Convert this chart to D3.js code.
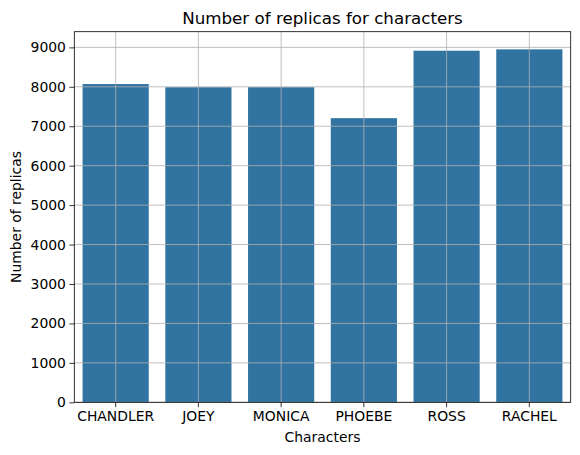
<!DOCTYPE html>
<html><head><meta charset="utf-8">
<script src="https://cdn.jsdelivr.net/npm/d3@7"></script>
<style>body{margin:0;background:#fff}text{font-family:"DejaVu Sans",sans-serif;fill:#000}</style>
</head><body>
<svg id="c" width="580" height="455"></svg>
<script>
const categories = ["CHANDLER","JOEY","MONICA","PHOEBE","ROSS","RACHEL"];
const values = [8070, 7990, 7990, 7205, 8915, 8950];
const yTicks = [0,1000,2000,3000,4000,5000,6000,7000,8000,9000];
const title = "Number of replicas for characters";
const xLabel = "Characters";
const yLabel = "Number of replicas";

const L = 74.3, R = 570.7, T = 31.7, B = 402.3;
const svg = d3.select("#c");
const x = d3.scaleBand().domain(categories).range([L, R]).paddingInner(0.2).paddingOuter(0.1);
const y = d3.scaleLinear().domain([0, d3.max(values) * 1.05]).range([B, T]);

svg.append("g").selectAll("rect").data(categories).join("rect")
  .attr("x", d => x(d)).attr("width", x.bandwidth())
  .attr("y", (d,i) => y(values[i])).attr("height", (d,i) => B - y(values[i]))
  .attr("fill", "#3274a1");

// grid
const g = svg.append("g").attr("stroke", "#b0b0b0").attr("stroke-width", 0.8);
g.selectAll(".v").data(categories).join("line")
  .attr("x1", d => x(d) + x.bandwidth()/2).attr("x2", d => x(d) + x.bandwidth()/2)
  .attr("y1", T).attr("y2", B);
g.selectAll(".h").data(yTicks).join("line")
  .attr("x1", L).attr("x2", R).attr("y1", d => y(d)).attr("y2", d => y(d));

// axes
const xa = svg.append("g").attr("transform", `translate(0,${B})`)
  .call(d3.axisBottom(x).tickSize(4.9).tickPadding(3.5));
const ya = svg.append("g").attr("transform", `translate(${L},0)`)
  .call(d3.axisLeft(y).tickValues(yTicks).tickSize(4.9).tickPadding(3.5).tickFormat(d3.format("d")));
[xa, ya].forEach(a => {
  a.select(".domain").remove();
  a.selectAll("line").attr("stroke", "#000").attr("stroke-width", 0.8);
  a.selectAll("text").attr("font-size", "13.9px").attr("font-family", "DejaVu Sans").attr("fill", "#000");
});

svg.append("rect").attr("x", L).attr("y", T).attr("width", R - L).attr("height", B - T)
  .attr("fill", "none").attr("stroke", "#000").attr("stroke-width", 0.8);

svg.append("text").attr("x", (L+R)/2).attr("y", 23.5).attr("text-anchor", "middle")
  .attr("font-size", "16.7px").text(title);
svg.append("text").attr("x", (L+R)/2).attr("y", 442).attr("text-anchor", "middle")
  .attr("font-size", "13.9px").text(xLabel);
svg.append("text").attr("transform", `translate(21,${(T+B)/2}) rotate(-90)`).attr("text-anchor", "middle")
  .attr("font-size", "13.9px").text(yLabel);
</script>
</body></html>
